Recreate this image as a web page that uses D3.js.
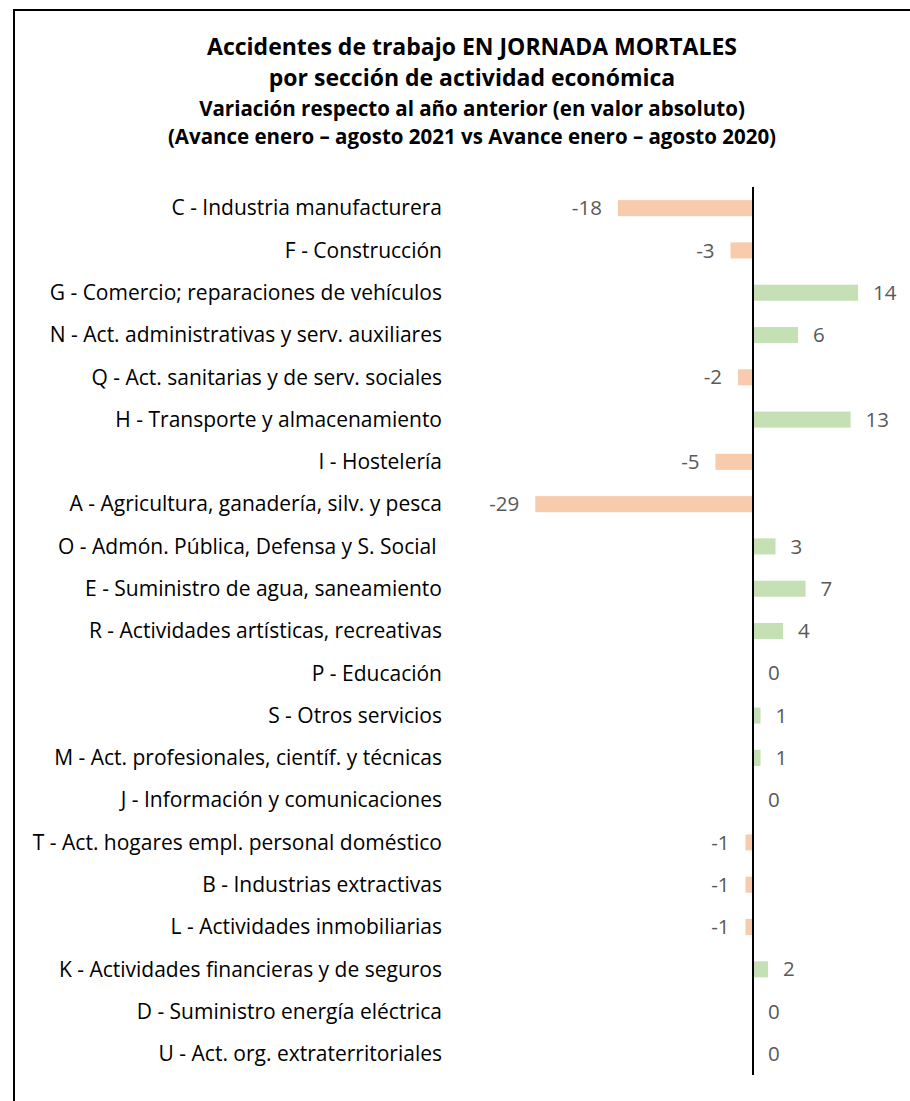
<!DOCTYPE html>
<html>
<head>
<meta charset="utf-8">
<script src="https://cdn.jsdelivr.net/npm/d3@7"></script>
<style>
  body { margin: 0; background: #fff; }
  text { font-family: "Open Sans", sans-serif; }
</style>
</head>
<body>
<svg id="chart" width="910" height="1101"></svg>
<script>
var categories = [
  "C - Industria manufacturera",
  "F - Construcción",
  "G - Comercio; reparaciones de vehículos",
  "N - Act. administrativas y serv. auxiliares",
  "Q - Act. sanitarias y de serv. sociales",
  "H - Transporte y almacenamiento",
  "I - Hostelería",
  "A - Agricultura, ganadería, silv. y pesca",
  "O - Admón. Pública, Defensa y S. Social ",
  "E - Suministro de agua, saneamiento",
  "R - Actividades artísticas, recreativas",
  "P - Educación",
  "S - Otros servicios",
  "M - Act. profesionales, científ. y técnicas",
  "J - Información y comunicaciones",
  "T - Act. hogares empl. personal doméstico",
  "B - Industrias extractivas",
  "L - Actividades inmobiliarias",
  "K - Actividades financieras y de seguros",
  "D - Suministro energía eléctrica",
  "U - Act. org. extraterritoriales"
];
var values = [-18, -3, 14, 6, -2, 13, -5, -29, 3, 7, 4, 0, 1, 1, 0, -1, -1, -1, 2, 0, 0];

var titleLines = [
  "Accidentes de trabajo EN JORNADA MORTALES",
  "por sección de actividad económica",
  "Variación respecto al año anterior (en valor absoluto)",
  "(Avance enero – agosto 2021 vs Avance enero – agosto 2020)"
];

var svg = d3.select("#chart");

// frame (runs off the right and bottom edge like the screenshot)
svg.append("rect")
  .attr("x", 14).attr("y", 10)
  .attr("width", 1000).attr("height", 1200)
  .attr("fill", "#fff")
  .attr("stroke", "#000")
  .attr("stroke-width", 2);

// title
svg.append("g").selectAll("text")
  .data(titleLines)
  .enter().append("text")
    .attr("x", 472)
    .attr("y", function(d, i) { return [55, 86, 116, 144][i]; })
    .attr("text-anchor", "middle")
    .attr("font-weight", "bold")
    .attr("font-size", function(d, i) { return i < 2 ? "23px" : "20.5px"; })
    .attr("fill", "#000")
    .text(function(d) { return d; });

var x = d3.scaleLinear()
  .domain([-30, 16])
  .range([753 - 30 * 7.507, 753 + 16 * 7.507]);

var y = d3.scaleBand()
  .domain(categories)
  .range([187, 1075])
  .paddingInner(0.62)
  .paddingOuter(0.31);

var rows = categories.map(function(c, i) { return {cat: c, val: values[i]}; });

// bars
svg.append("g").selectAll("rect")
  .data(rows)
  .enter().append("rect")
    .attr("x", function(d) { return x(Math.min(0, d.val)); })
    .attr("y", function(d) { return y(d.cat); })
    .attr("width", function(d) { return Math.abs(x(d.val) - x(0)); })
    .attr("height", y.bandwidth())
    .attr("fill", function(d) { return d.val < 0 ? "#f8cbad" : "#c5e0b4"; });

// zero line
svg.append("line")
  .attr("x1", x(0)).attr("x2", x(0))
  .attr("y1", 187).attr("y2", 1075)
  .attr("stroke", "#000")
  .attr("stroke-width", 2);

// category labels
svg.append("g").selectAll("text")
  .data(rows)
  .enter().append("text")
    .attr("x", 442)
    .attr("y", function(d) { return y(d.cat) + y.bandwidth() / 2; })
    .attr("dy", "0.35em")
    .attr("text-anchor", "end")
    .attr("font-size", "21px")
    .attr("fill", "#000")
    .style("white-space", "pre")
    .text(function(d) { return d.cat; });

// value labels
svg.append("g").selectAll("text")
  .data(rows)
  .enter().append("text")
    .attr("x", function(d) { return d.val < 0 ? x(d.val) - 16 : x(d.val) + 15; })
    .attr("y", function(d) { return y(d.cat) + y.bandwidth() / 2; })
    .attr("dy", "0.35em")
    .attr("text-anchor", function(d) { return d.val < 0 ? "end" : "start"; })
    .attr("font-size", "20.5px")
    .attr("fill", "#595959")
    .text(function(d) { return d.val; });
</script>
</body>
</html>
